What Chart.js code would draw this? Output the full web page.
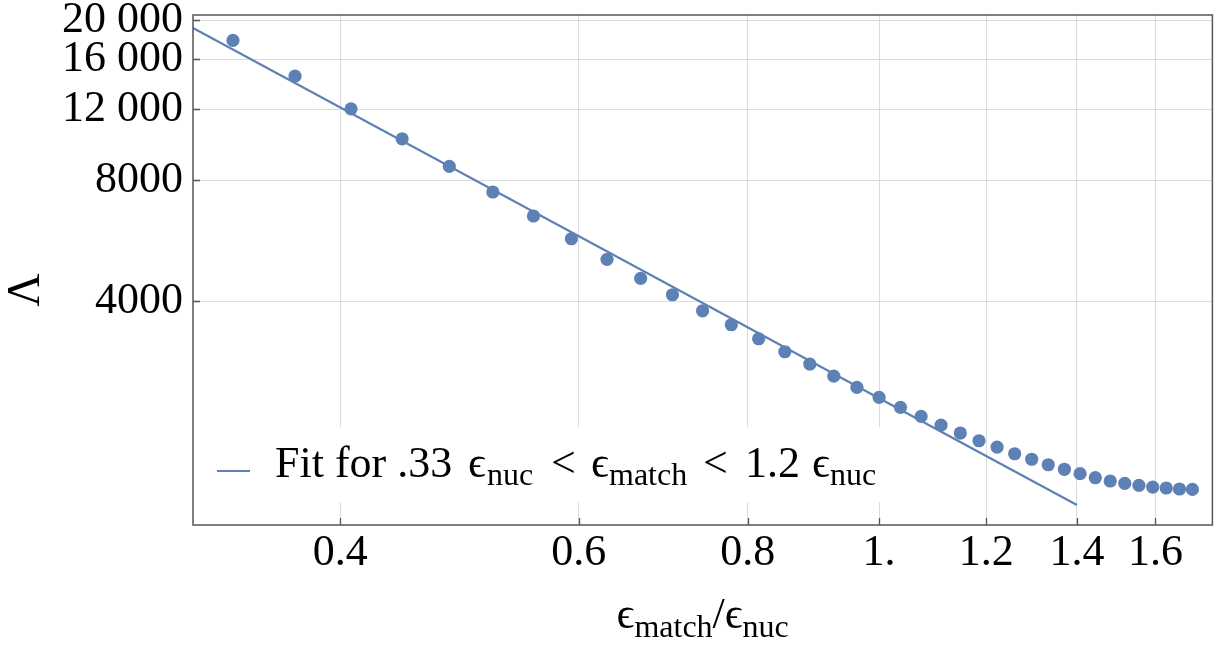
<!DOCTYPE html>
<html><head><meta charset="utf-8">
<script src="https://cdn.jsdelivr.net/npm/chart.js@4.4.0/dist/chart.umd.min.js"></script>
<style>html,body{margin:0;padding:0;background:#fff;overflow:hidden}canvas{display:block}</style>
</head><body>
<canvas id="c" width="1219" height="648"></canvas>
<script>
// ---- data ----
const ratioValues = [0.3333,0.3704,0.4074,0.4444,0.4815,0.5185,0.5556,0.5926,0.6296,0.6667,
  0.7037,0.7407,0.7778,0.8148,0.8519,0.8889,0.9259,0.9630,1.0000,1.0370,
  1.0741,1.1111,1.1481,1.1852,1.2222,1.2593,1.2963,1.3333,1.3704,1.4074,
  1.4444,1.4815,1.5185,1.5556,1.5926,1.6296,1.6667,1.7037];
const lambdaValues = [17800,14510,12030,10130,8650,7470,6510,5715,5080,4555,
  4147,3783,3492,3223,2992,2788,2603,2440,2304,2176,
  2067,1966,1878,1797,1733,1668,1616,1566,1526,1488,
  1454,1427,1408,1392,1378,1371,1363,1360];
const fitX = [0.3114, 1.4];
const fitY = [19110, 1243];
const xTickValues = [0.4,0.6,0.8,1.0,1.2,1.4,1.6];
const xTickLabels = ['0.4','0.6','0.8','1.','1.2','1.4','1.6'];
const yTickValues = [4000,8000,12000,16000,20000];
const yTickLabels = ['4000','8000','12 000','16 000','20 000'];
const xRange = [0.3114, 1.7626];
const yRange = [1109, 20590];
const legendLabel = [
  {t:'Fit for .33', dx:58}, {t:'\u03F5', dx:251}, {t:'nuc', dx:270, sub:true},
  {t:'<', dx:334}, {t:'\u03F5', dx:374}, {t:'match', dx:392, sub:true},
  {t:'<', dx:486}, {t:'1.2', dx:528}, {t:'\u03F5', dx:595}, {t:'nuc', dx:613, sub:true}
];
const xTitle = [{t:'\u03F5'},{t:'match',sub:true},{t:'/'},{t:'\u03F5'},{t:'nuc',sub:true}];
const yTitle = '\u039B';

const BLUE = '#5E81B5';
const FAM = "'Liberation Serif','DejaVu Serif',serif";
const MAIN = 'px ' + FAM;

const decor = {
  id: 'decor',
  beforeDatasetsDraw(chart) {
    const ctx = chart.ctx;
    ctx.save();
    ctx.fillStyle = '#fff';
    ctx.fillRect(205, 427, 685, 75);
    ctx.restore();
  },
  afterDatasetsDraw(chart) {
    const ctx = chart.ctx, a = chart.chartArea;
    const xs = chart.scales.x, ys = chart.scales.y;
    ctx.save();
    // frame
    ctx.strokeStyle = '#555';
    ctx.lineWidth = 1.5;
    ctx.strokeRect(a.left, a.top, a.right - a.left, a.bottom - a.top);
    // inward ticks
    ctx.lineWidth = 1.3;
    ctx.beginPath();
    xTickValues.forEach(v => { const p = Math.round(xs.getPixelForValue(v)) + 0.5; ctx.moveTo(p, a.bottom); ctx.lineTo(p, a.bottom - 7); });
    yTickValues.forEach(v => { const p = Math.round(ys.getPixelForValue(v)) + 0.5; ctx.moveTo(a.left, p); ctx.lineTo(a.left + 7, p); });
    ctx.stroke();
    // legend
    const lx = 217, ly = 471;
    ctx.strokeStyle = BLUE; ctx.lineWidth = 2.2;
    ctx.beginPath(); ctx.moveTo(lx, ly); ctx.lineTo(lx + 33, ly); ctx.stroke();
    ctx.fillStyle = '#000';
    ctx.textBaseline = 'alphabetic';
    ctx.textAlign = 'left';
    legendLabel.forEach(s => {
      ctx.font = (s.sub ? 32 : 44) + MAIN;
      ctx.fillText(s.t, lx + s.dx, s.sub ? 485 : 477);
    });
    // x title (sequential, centred on the plot)
    let w = 0;
    xTitle.forEach(s => { ctx.font = (s.sub ? 32 : 44) + MAIN; w += ctx.measureText(s.t).width; });
    let x = (a.left + a.right) / 2 - w / 2;
    xTitle.forEach(s => {
      ctx.font = (s.sub ? 32 : 44) + MAIN;
      ctx.fillText(s.t, x, s.sub ? 637 : 628);
      x += ctx.measureText(s.t).width;
    });
    // y title
    ctx.translate(27, 290);
    ctx.rotate(-Math.PI / 2);
    ctx.textAlign = 'center';
    ctx.textBaseline = 'middle';
    ctx.font = '46' + MAIN;
    ctx.fillText(yTitle, 0, 0);
    ctx.restore();
  }
};

new Chart(document.getElementById('c'), {
  type: 'scatter',
  data: {
    datasets: [
      { label: 'data', data: ratioValues.map((x, i) => ({x, y: lambdaValues[i]})),
        pointRadius: 6.6, pointHoverRadius: 6.6, pointBackgroundColor: BLUE, pointBorderWidth: 0, showLine: false },
      { label: 'fit', type: 'line', data: fitX.map((x, i) => ({x, y: fitY[i]})),
        borderColor: BLUE, borderWidth: 2.2, pointRadius: 0, fill: false, tension: 0 }
    ]
  },
  options: {
    responsive: false, animation: false, devicePixelRatio: 1,
    layout: { padding: { left: 0, right: 6, top: 0, bottom: 0 } },
    plugins: { legend: { display: false }, tooltip: { enabled: false } },
    scales: {
      x: {
        type: 'logarithmic', min: xRange[0], max: xRange[1], bounds: 'data',
        afterBuildTicks: s => { s.ticks = xTickValues.map(v => ({ value: v })); s.min = xRange[0]; s.max = xRange[1]; },
        afterFit: s => { s.height = 123; s.paddingLeft = 0; s.paddingRight = 0; },
        ticks: { autoSkip: false, maxRotation: 0, minRotation: 0, padding: 2, color: '#000',
          font: { family: FAM, size: 44 }, callback: (v, i) => xTickLabels[i] },
        grid: { color: '#dcdcdc', lineWidth: 1, drawTicks: false, tickLength: 0 },
        border: { display: false }
      },
      y: {
        type: 'logarithmic', min: yRange[0], max: yRange[1], bounds: 'data',
        afterBuildTicks: s => { s.ticks = yTickValues.map(v => ({ value: v })); s.min = yRange[0]; s.max = yRange[1]; },
        afterFit: s => { s.width = 193; s.paddingTop = 15; s.paddingBottom = 0; },
        ticks: { autoSkip: false, padding: 10, color: '#000',
          font: { family: FAM, size: 44 }, callback: (v, i) => yTickLabels[i] },
        grid: { color: '#dcdcdc', lineWidth: 1, drawTicks: false, tickLength: 0 },
        border: { display: false }
      }
    }
  },
  plugins: [decor]
});
</script>
</body></html>
